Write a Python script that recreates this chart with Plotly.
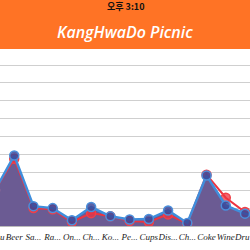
import plotly.graph_objects as go

categories = ["Tofu", "Beer", "Sa...", "Ra...", "On...", "Ch...", "Ko...", "Pe...",
              "Cups", "Dis...", "Ch...", "Coke", "Wine", "Dru...", "Ic..."]
blue_vals = [20, 39.4, 11.1, 10.0, 3.2, 10.6, 5.4, 3.6, 3.9, 8.7, 1.7, 28.2, 11.5, 6.9, 3.5]
red_vals = [20, 37.6, 10.0, 9.3, 2.2, 7.2, 5.4, 2.8, 2.2, 6.5, 1.3, 28.7, 15.8, 7.8, 4.0]
title_text = "KangHwaDo Picnic"
status_text = "오후 3:10"
edge_left_text = "u"     # visible end of "Tofu" at the left screen edge
edge_right_text = "Dru"  # visible start of "Dru..." at the right screen edge

xs = list(range(len(categories)))

fig = go.Figure()
# purple area
fig.add_trace(go.Scatter(x=xs, y=blue_vals, mode="lines", fill="tozeroy",
                         fillcolor="#6B5B93", line=dict(width=0, color="#6B5B93"),
                         hoverinfo="skip", showlegend=False))
# red series
fig.add_trace(go.Scatter(x=xs, y=red_vals, mode="lines+markers",
                         line=dict(color="#EE3340", width=2),
                         marker=dict(size=9, color="rgba(238,51,64,0.75)",
                                     line=dict(color="#F04048", width=1.5)),
                         showlegend=False))
# blue series
fig.add_trace(go.Scatter(x=xs, y=blue_vals, mode="lines+markers",
                         line=dict(color="#3F8EDC", width=2.5),
                         marker=dict(size=9, color="rgba(60,70,150,0.85)",
                                     line=dict(color="#4A8FDC", width=1.5)),
                         showlegend=False))

tickfont = dict(family="Liberation Serif, serif", size=9, color="#222222", style="italic")
step = 250 / 13
x0 = 5 / step
fig.update_layout(
    width=250, height=250,
    margin=dict(l=0, r=0, t=49, b=24),
    paper_bgcolor="white", plot_bgcolor="white",
    xaxis=dict(range=[x0, x0 + 250 / step], tickmode="array", tickvals=xs,
               ticktext=categories, showgrid=False, zeroline=False,
               showline=False, ticks="", tickangle=0,
               ticklabelstandoff=4, tickfont=tickfont),
    yaxis=dict(range=[0, 99], dtick=10, showgrid=True, gridcolor="#CFCFCF",
               gridwidth=1, showticklabels=False, zeroline=True,
               zerolinecolor="#BBBBBB", zerolinewidth=1, ticks=""),
    shapes=[dict(type="rect", xref="paper", yref="paper", x0=0, x1=1,
                 y0=1, y1=1 + 49 / 177, fillcolor="#FF7325", line=dict(width=0),
                 layer="above")],
    annotations=[
        dict(text=title_text, xref="paper", yref="paper", x=0.5,
             y=1 + 17 / 177, yanchor="middle", showarrow=False,
             font=dict(family="Open Sans, sans-serif", size=16, color="white",
                       style="italic", weight=600)),
        dict(text=status_text, xref="paper", yref="paper", x=0.5,
             y=1 + 42 / 177, yanchor="middle", showarrow=False,
             font=dict(family="Noto Sans CJK KR", size=9, color="#111111",
                       weight="bold")),
        dict(text=edge_left_text, xref="paper", yref="paper", x=0, xanchor="left",
             y=-11 / 177, yanchor="middle", showarrow=False, xshift=-2, font=tickfont),
        dict(text=edge_right_text, xref="paper", yref="paper", x=1, xanchor="right",
             y=-11 / 177, yanchor="middle", showarrow=False, xshift=2, font=tickfont),
    ],
)

fig.write_html("out.html")
